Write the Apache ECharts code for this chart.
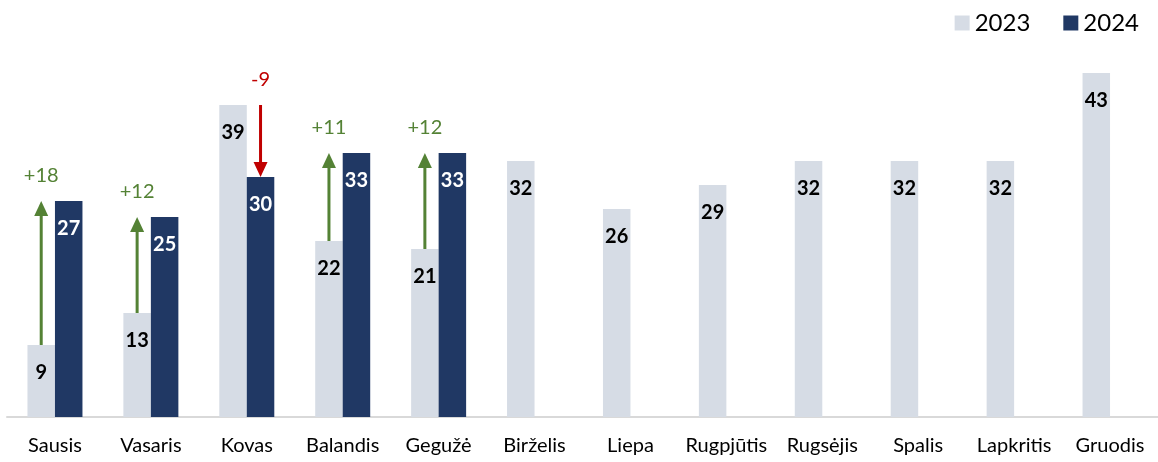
<!DOCTYPE html>
<html>
<head>
<meta charset="utf-8">
<script src="https://cdn.jsdelivr.net/npm/echarts@6/dist/echarts.min.js"></script>
<style>
  html, body { margin: 0; padding: 0; background: #fff; }
  #chart { width: 1158px; height: 462px; }
</style>
</head>
<body>
<div id="chart"></div>
<script>
var months = ['Sausis','Vasaris','Kovas','Balandis','Gegužė','Birželis','Liepa','Rugpjūtis','Rugsėjis','Spalis','Lapkritis','Gruodis'];
var v2023 = [9, 13, 39, 22, 21, 32, 26, 29, 32, 32, 32, 43];
var v2024 = [27, 25, 30, 33, 33, null, null, null, null, null, null, null];

var BAR_W = 27.5;
var FONT = 'Lato, "Open Sans", sans-serif';

// arrows: [category, from (2023), to (2024)]
var arrows = [];
for (var i = 0; i < months.length; i++) {
    if (v2024[i] != null) arrows.push([i, v2023[i], v2024[i]]);
}

var chart = echarts.init(document.getElementById('chart'));
var option = {
    animation: false,
    textStyle: { fontFamily: FONT },
    grid: { left: 7, right: 0, top: 17, bottom: 45, containLabel: false },
    legend: {
        data: ['2023', '2024'],
        right: 14,
        top: 6,
        icon: 'rect',
        itemWidth: 15,
        itemHeight: 15,
        itemGap: 33,
        textStyle: { fontSize: 24, color: '#000', fontFamily: FONT }
    },
    xAxis: {
        type: 'category',
        data: months,
        axisLine: { lineStyle: { color: '#d9d9d9', width: 2 } },
        axisTick: { show: false },
        axisLabel: { fontSize: 20, color: '#000', margin: 19, fontFamily: FONT, interval: 0 }
    },
    yAxis: {
        type: 'value',
        min: 0,
        max: 50,
        show: false
    },
    series: [
        {
            name: '2023',
            type: 'bar',
            data: v2023,
            barWidth: BAR_W,
            barGap: '0%',
            itemStyle: { color: '#d6dce5' },
            label: {
                show: true,
                position: 'insideTop',
                distance: 18,
                color: '#000',
                fontWeight: 'bold',
                fontSize: 20,
                fontFamily: FONT
            }
        },
        {
            name: '2024',
            type: 'bar',
            data: v2024,
            barWidth: BAR_W,
            barGap: '0%',
            itemStyle: { color: '#203864' },
            label: {
                show: true,
                position: 'insideTop',
                distance: 18,
                color: '#fff',
                fontWeight: 'bold',
                fontSize: 20,
                fontFamily: FONT
            }
        },
        {
            name: 'arrows',
            type: 'custom',
            data: arrows,
            clip: false,
            silent: true,
            z: 5,
            renderItem: function (params, api) {
                var from = api.value(1), to = api.value(2);
                var p0 = api.coord([api.value(0), from]);
                var p1 = api.coord([api.value(0), to]);
                var up = to > from;
                var x = p0[0] + (up ? -BAR_W / 2 : BAR_W / 2);
                var color = up ? '#548235' : '#c00000';
                var headH = 15, headW = 7;
                var tipY = p1[1];
                var baseY = up ? tipY + headH : tipY - headH;
                var diff = to - from;
                var txt = (diff > 0 ? '+' : '') + diff;
                var labelY = Math.min(p0[1], p1[1]) - 25;
                return {
                    type: 'group',
                    children: [
                        {
                            type: 'line',
                            shape: { x1: x, y1: p0[1], x2: x, y2: baseY },
                            style: { stroke: color, lineWidth: 3 }
                        },
                        {
                            type: 'polygon',
                            shape: { points: [[x - headW, baseY], [x + headW, baseY], [x, tipY]] },
                            style: { fill: color }
                        },
                        {
                            type: 'text',
                            x: x,
                            y: labelY,
                            style: {
                                text: txt,
                                fill: color,
                                fontSize: 20,
                                fontFamily: FONT,
                                align: 'center',
                                verticalAlign: 'middle'
                            }
                        }
                    ]
                };
            }
        }
    ]
};
chart.setOption(option);

window.onresize = chart.resize;
</script>
</body>
</html>
